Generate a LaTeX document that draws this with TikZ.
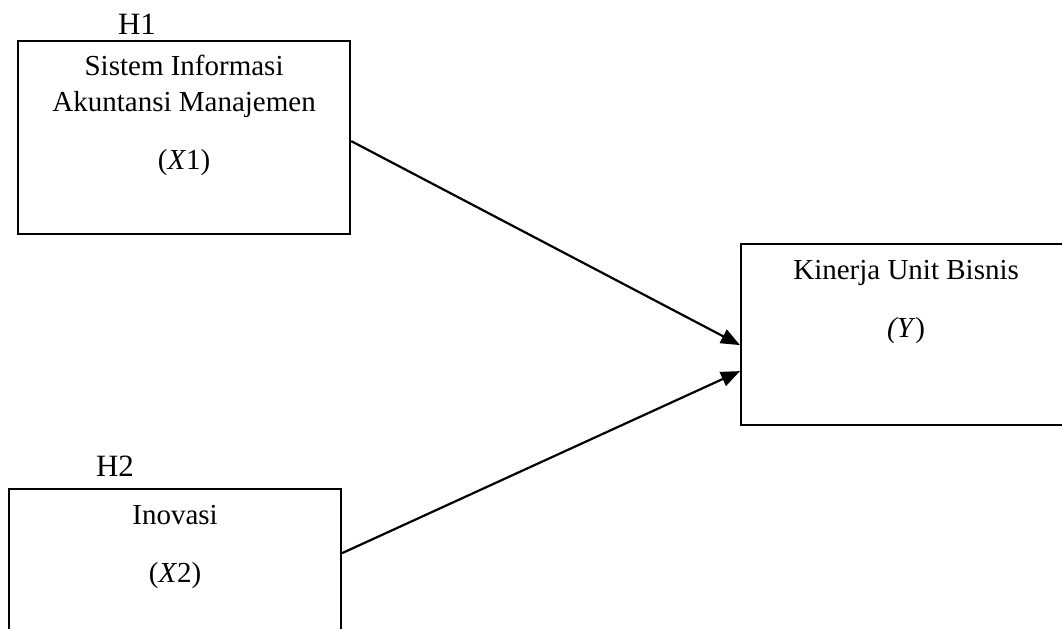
\documentclass[tikz,border=0pt]{standalone}
\usepackage{fontspec}
\setmainfont{Liberation Serif}
\usetikzlibrary{positioning,calc,arrows.meta}

\tikzset{
    varbox/.style={draw, line width=1.1pt, rectangle, inner sep=0pt, anchor=north west,
        minimum width=166pt, minimum height=96.5pt},
    vartext/.style={anchor=north, align=center, inner sep=0pt, font=\fontsize{14.5}{18}\selectfont},
    hyp/.style={anchor=base, inner sep=0pt, font=\fontsize{15.5}{18}\selectfont}
}

\begin{document}
\begin{tikzpicture}[x=0.5pt, y=-0.5pt, >={Triangle[length=9.5pt,width=7.5pt]}, line width=1.1pt]
    \useasboundingbox (0,0) rectangle (1062,628);
    \clip (0,0) rectangle (1062,628);

    % boxes
    \node [varbox] (x1) at (17,40) {};
    \node [varbox] (x2) at (8,488) {};
    \node [varbox, minimum width=165pt, minimum height=90.5pt] (y) at (740,243) {};

    % texts
    \node [vartext] (x1t) at ([yshift=-7pt]x1.north) {Sistem Informasi\\Akuntansi Manajemen\\[11pt](\textit{X}1)};
    \node [vartext] (x2t) at ([yshift=-8pt]x2.north) {Inovasi\\[11pt](\textit{X}2)};
    \node [vartext] (yt) at ([yshift=-8pt]y.north) {Kinerja Unit Bisnis\\[11pt]\textit{(Y})};

    \node [hyp] (h1) at (137,34) {H1};
    \node [hyp] (h2) at (115,476) {H2};

    % arrows
    \draw [->] ([yshift=-1.75pt]x1.east) -- ([yshift=-5.25pt]y.west);
    \draw [->] ([yshift=16.25pt]x2.east) -- ([yshift=-18.25pt]y.west);
\end{tikzpicture}
\end{document}
